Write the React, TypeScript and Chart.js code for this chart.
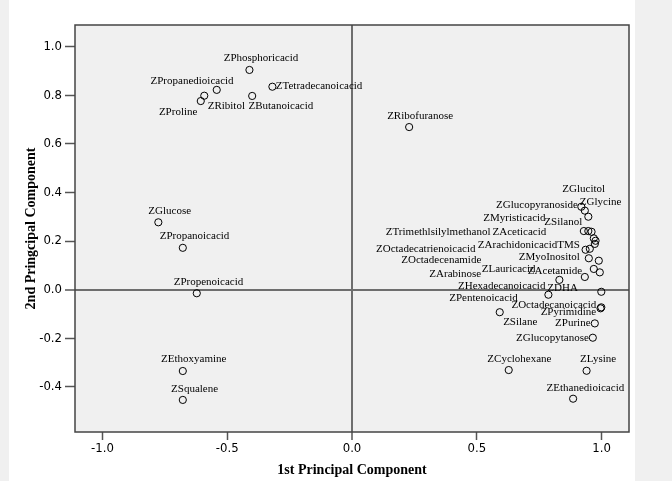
import React, { useEffect, useRef } from 'react';
import { Chart, registerables } from 'chart.js';

Chart.register(...registerables);

// Variable names (labels shown next to each point; "" = label hidden)
const names = [
  'ZPhosphoricacid', 'ZPropanedioicacid', 'ZTetradecanoicacid', 'ZRibitol', 'ZButanoicacid', 'ZProline',
  'ZRibofuranose', 'ZGlucose', 'ZPropanoicacid', 'ZPropenoicacid', 'ZEthoxyamine', 'ZSqualene',
  'ZCyclohexane', 'ZLysine', 'ZEthanedioicacid', 'ZSilane', 'ZPurine', 'ZGlucopytanose',
  'ZPyrimidine', 'ZOctadecanoicacid',
  'ZGlucopyranoside', 'ZGlucitol', 'ZGlycine', 'ZSilanol', 'ZMyristicacid', 'ZAceticacid',
  'ZTrimethlsilylmethanol', 'ZArachidonicacidTMS', 'ZOctadecatrienoicacid', 'ZOctadecenamide', '',
  'ZMyoInositol', '', 'ZAcetamide', 'ZLauricacid', 'ZArabinose', 'ZHexadecanoicacid', 'ZDHA', 'ZPentenoicacid',
];

// 1st principal component loadings
const pc1 = [
  -0.411, -0.542, -0.319, -0.592, -0.400, -0.606,
  0.229, -0.776, -0.678, -0.622, -0.678, -0.678,
  0.628, 0.940, 0.886, 0.592, 0.973, 0.965,
  0.996, 0.999,
  0.919, 0.933, 0.947, 0.929, 0.947, 0.960,
  0.969, 0.976, 0.973, 0.936, 0.953,
  0.949, 0.989, 0.969, 0.993, 0.933, 0.831, 0.999, 0.787,
];

// 2nd principal component loadings
const pc2 = [
  0.904, 0.822, 0.835, 0.798, 0.797, 0.776,
  0.669, 0.277, 0.172, -0.015, -0.335, -0.454,
  -0.331, -0.334, -0.449, -0.093, -0.139, -0.198,
  -0.077, -0.073,
  0.341, 0.325, 0.300, 0.241, 0.241, 0.238,
  0.211, 0.201, 0.188, 0.164, 0.168,
  0.129, 0.119, 0.085, 0.071, 0.052, 0.040, -0.009, -0.021,
];

const xTicks = [-1.0, -0.5, 0.0, 0.5, 1.0];
const yTicks = [-0.4, -0.2, 0.0, 0.2, 0.4, 0.6, 0.8, 1.0];

// Label placement relative to each point (alignment, pixel offsets)
const labelAlign = [
  'center', 'center', 'left', 'left', 'left', 'right',
  'center', 'center', 'center', 'center', 'center', 'center',
  'center', 'center', 'center', 'left', 'right', 'right',
  'right', 'right',
  'right', 'center', 'center', 'right', 'right', 'right',
  'right', 'right', 'right', 'right', 'right',
  'right', 'right', 'right', 'right', 'right', 'right', 'right', 'right',
];
const labelDx = [
  11.5, -24.7, 3.4, 3.4, -3.7, -3.4,
  11, 11.4, 11.7, 11.7, 11, 11.8,
  10.7, 11.5, 12.3, 3.4, -4.3, -4,
  -4.3, -5,
  -3.4, -1.1, 12.3, -1.6, -42.7, -45.3,
  -103.3, -15.7, -119.3, -104.3, 0,
  -9, 0, -11.6, -64.3, -103.6, -14, -23.4, -30.7,
];
const labelDy = [
  -11.7, -8.3, -0.7, 10, 9.7, 10.7,
  -11.3, -11.6, -11.7, -11, -11.7, -11.3,
  -10.7, -11.4, -10.4, 10.4, 0, 0,
  4, -2.3,
  -2, -21.7, -14.4, -8.7, -13.3, 0,
  -6.6, 4.3, 5, 10.7, 0,
  -1, 0, 1.7, -3, -3, 6, -3.4, 3.6,
];

const xTitle = '1st Principal Component';
const yTitle = '2nd Pringcipal Component';

export default function App() {
  const ref = useRef<HTMLCanvasElement | null>(null);

  useEffect(() => {
    const canvas = ref.current;
    if (!canvas) return;

    const bgPlugin = {
      id: 'spssBg',
      beforeDraw(chart: any) {
        const { ctx, width, height, chartArea: a } = chart;
        ctx.save();
        ctx.fillStyle = '#f0f0f0';
        ctx.fillRect(0, 0, width, height);
        ctx.fillStyle = '#ffffff';
        ctx.fillRect(9, 0, 626, height);
        ctx.fillStyle = '#f0f0f0';
        ctx.fillRect(a.left, a.top, a.right - a.left, a.bottom - a.top);
        ctx.restore();
      },
      afterDraw(chart: any) {
        const { ctx, chartArea: a } = chart;
        ctx.save();
        ctx.strokeStyle = '#444444';
        ctx.lineWidth = 1.5;
        ctx.strokeRect(a.left, a.top, a.right - a.left, a.bottom - a.top);
        ctx.restore();
      },
    };

    const labelPlugin = {
      id: 'pointLabels',
      afterDatasetsDraw(chart: any) {
        const { ctx } = chart;
        const meta = chart.getDatasetMeta(0);
        ctx.save();
        ctx.font = '11px "Liberation Serif", "Times New Roman", serif';
        ctx.fillStyle = '#000000';
        ctx.textBaseline = 'middle';
        meta.data.forEach((pt: any, i: number) => {
          const t = names[i];
          if (!t) return;
          ctx.textAlign = labelAlign[i] as CanvasTextAlign;
          ctx.fillText(t, pt.x + labelDx[i], pt.y + labelDy[i]);
        });
        ctx.restore();
      },
    };

    const tickFont = { family: '"DejaVu Sans Condensed", "Liberation Sans", Arial, sans-serif', size: 13 };
    const titleFont = { family: '"Liberation Serif", "Times New Roman", serif', size: 14, weight: 'bold' as const };

    const chart = new Chart(canvas, {
      type: 'scatter',
      data: {
        datasets: [
          {
            data: pc1.map((x, i) => ({ x, y: pc2[i] })),
            pointStyle: 'circle',
            pointRadius: 3.6,
            pointHoverRadius: 3.6,
            borderColor: '#000000',
            borderWidth: 1,
            backgroundColor: 'rgba(0,0,0,0)',
          },
        ],
      },
      options: {
        animation: false,
        responsive: false,
        devicePixelRatio: 1,
        events: [],
        layout: { padding: { left: 0, top: 25, right: 43, bottom: 0 } },
        plugins: {
          legend: { display: false },
          tooltip: { enabled: false },
        },
        scales: {
          x: {
            type: 'linear',
            min: -1.11,
            max: 1.11,
            afterBuildTicks: (s: any) => {
              s.ticks = xTicks.map((v) => ({ value: v }));
            },
            afterFit: (s: any) => {
              s.height = 49;
            },
            ticks: {
              color: '#000000',
              font: tickFont,
              padding: 1,
              maxRotation: 0,
              autoSkip: false,
              callback: (v: any) => Number(v).toFixed(1),
            },
            grid: {
              color: (c: any) => (c.tick && c.tick.value === 0 ? '#6e6e6e' : 'rgba(0,0,0,0)'),
              lineWidth: (c: any) => (c.tick && c.tick.value === 0 ? 2 : 1),
              tickColor: '#555555',
              tickWidth: 1.5,
              tickLength: 8,
              drawTicks: true,
            },
            border: { display: false },
            title: {
              display: true,
              text: xTitle,
              color: '#000000',
              font: titleFont,
              padding: { top: 0, bottom: 2 },
            },
          },
          y: {
            type: 'linear',
            min: -0.586,
            max: 1.089,
            afterBuildTicks: (s: any) => {
              s.ticks = yTicks.map((v) => ({ value: v }));
            },
            afterFit: (s: any) => {
              s.width = 75;
            },
            ticks: {
              color: '#000000',
              font: tickFont,
              padding: 3,
              autoSkip: false,
              callback: (v: any) => Number(v).toFixed(1),
            },
            grid: {
              color: (c: any) => (c.tick && c.tick.value === 0 ? '#6e6e6e' : 'rgba(0,0,0,0)'),
              lineWidth: (c: any) => (c.tick && c.tick.value === 0 ? 2 : 1),
              tickColor: '#555555',
              tickWidth: 1.5,
              tickLength: 10,
              drawTicks: true,
            },
            border: { display: false },
            title: {
              display: true,
              text: yTitle,
              color: '#000000',
              font: titleFont,
              padding: { top: 23, bottom: 0 },
            },
          },
        },
      },
      plugins: [bgPlugin, labelPlugin],
    } as any);

    return () => {
      chart.destroy();
    };
  }, []);

  return (
    <div style={{ position: 'fixed', left: 0, top: 0, width: 672, height: 481 }}>
      <canvas ref={ref} width={672} height={481} style={{ width: 672, height: 481, display: 'block' }} />
    </div>
  );
}
